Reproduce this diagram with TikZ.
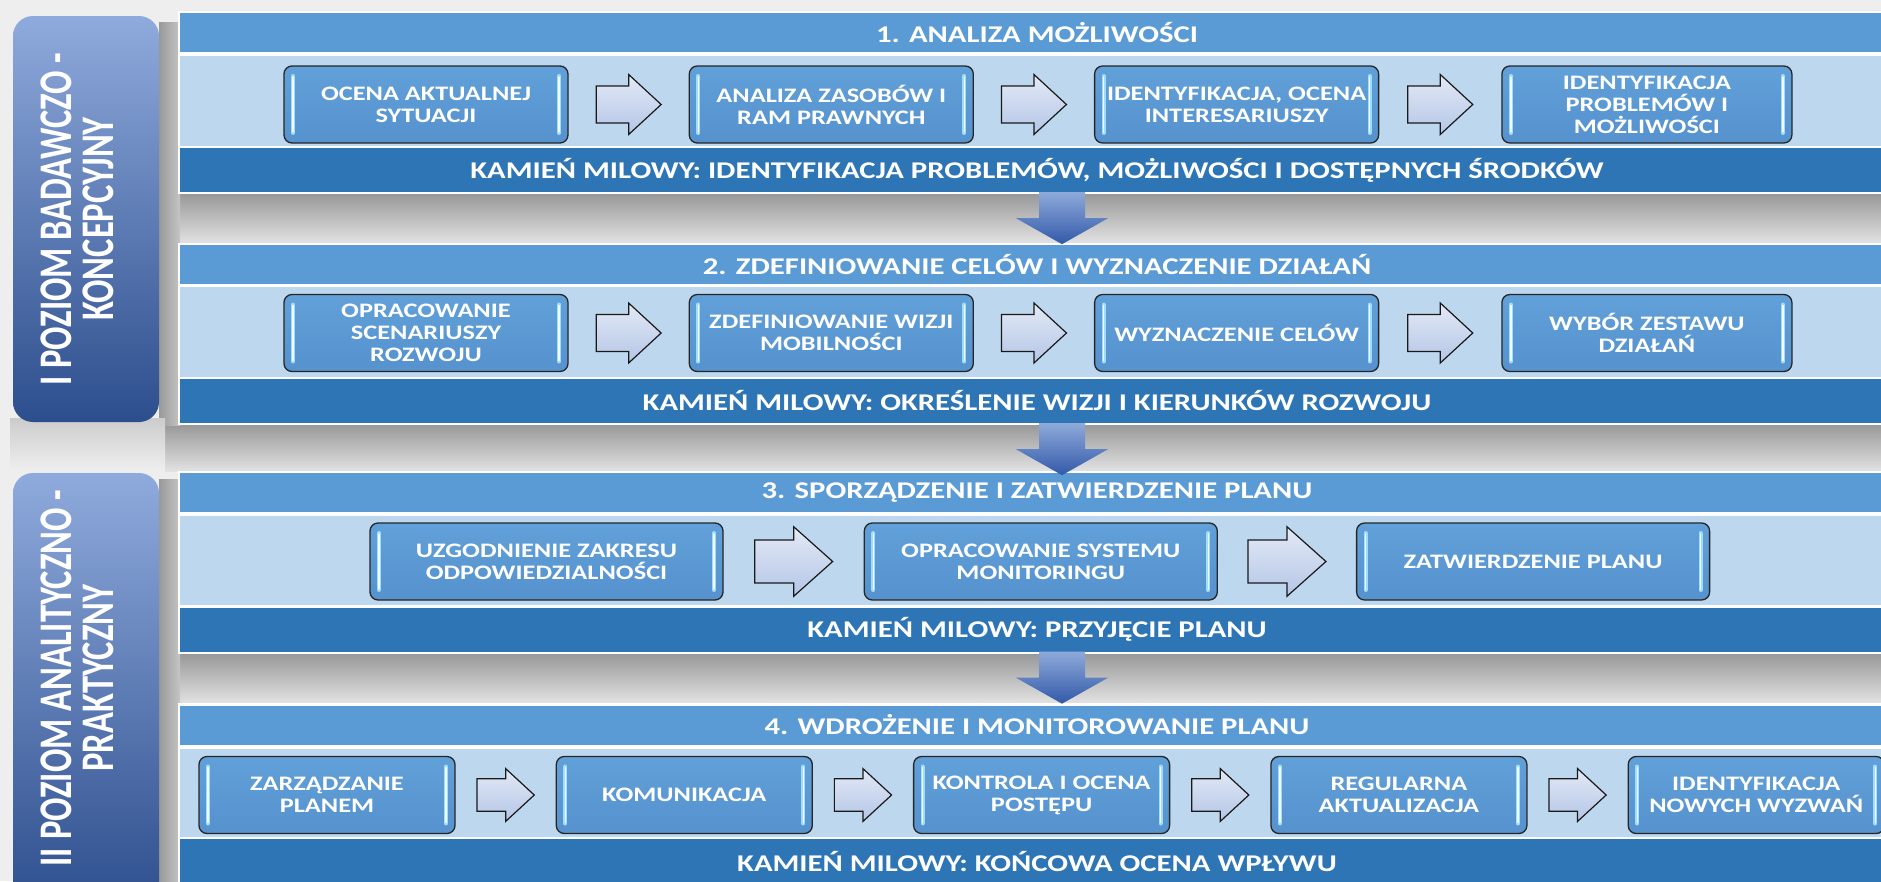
\documentclass[tikz,border=0pt]{standalone}
\usepackage{fontspec}
\setmainfont{Carlito}[FakeStretch=1.28]
\newfontfamily\panelfont{Carlito}
\usepackage{graphicx}
\usetikzlibrary{calc,positioning}
\definecolor{bgray}{HTML}{EEEEEE}
\definecolor{hdrblue}{HTML}{5B9BD5}
\definecolor{bandlight}{HTML}{BDD7EE}
\definecolor{msblue}{HTML}{2E75B6}
\definecolor{boxtop}{HTML}{62A0D9}
\definecolor{boxbot}{HTML}{5592CE}
\definecolor{hlite}{HTML}{9FDDF8}
\definecolor{arrowtop}{HTML}{E4EAF6}
\definecolor{arrowbot}{HTML}{B3C5E6}
\definecolor{darrowtop}{HTML}{8EAADB}
\definecolor{darrowbot}{HTML}{3359A8}
\definecolor{paneltop}{HTML}{8FAADC}
\definecolor{panelmid}{HTML}{4B76C6}
\definecolor{panelbot}{HTML}{2D4E8D}
\definecolor{shadowdk}{HTML}{999999}
\definecolor{shadowlt}{HTML}{E2E2E2}
\tikzset{
  rarrow/.pic={
    \shade[top color=arrowtop, bottom color=arrowbot, draw=black!90, line width=1.2pt]
      (-32.5,-18.5) -- (0,-18.5) -- (0,-30) -- (32.5,0) -- (0,30) -- (0,18.5) -- (-32.5,18.5) -- cycle;
  },
  downarrow/.pic={
    \shade[top color=darrowtop, bottom color=darrowbot]
      (-23,0) -- (23,0) -- (23,26) -- (46,26) -- (0,52) -- (-46,26) -- (-23,26) -- cycle;
  }
}

\begin{document}
\begin{tikzpicture}[x=1pt, y=-1pt,
  band/.style={rectangle, minimum width=1714pt, inner sep=0pt, text=white,
    font=\fontsize{24}{28}\selectfont\bfseries},
  hdr/.style={band, fill=hdrblue, minimum height=39pt},
  mstone/.style={band, fill=msblue, minimum height=44pt},
  stepbox/.style={rectangle, rounded corners=8pt, draw=black!85, line width=1.3pt,
    top color=boxtop, bottom color=boxbot, text=white, align=center,
    font=\fontsize{20.6}{22}\selectfont\bfseries, minimum width=#1, minimum height=77pt, inner sep=0pt,
    path picture={
      \draw[hlite, line width=4pt, line cap=round]
        ([xshift=9pt,yshift=-10pt]path picture bounding box.north west) -- ([xshift=9pt,yshift=10pt]path picture bounding box.south west)
        ([xshift=-9pt,yshift=-10pt]path picture bounding box.north east) -- ([xshift=-9pt,yshift=10pt]path picture bounding box.south east);
      \draw[white!85!hlite, line width=1.3pt, line cap=round]
        ([xshift=9pt,yshift=-11pt]path picture bounding box.north west) -- ([xshift=9pt,yshift=11pt]path picture bounding box.south west)
        ([xshift=-9pt,yshift=-11pt]path picture bounding box.north east) -- ([xshift=-9pt,yshift=11pt]path picture bounding box.south east);
    }},
  lvltext/.style={text=white, inner sep=0pt}]
\useasboundingbox (0,0) rectangle (1881,881);
\clip (0,0) rectangle (1881,881);
\fill[bgray] (0,0) rectangle (1881,881);

% shadows
\shade[top color=shadowdk, bottom color=shadowlt] (165,194) rectangle (1894,243);
\shade[top color=shadowdk, bottom color=shadowlt] (165,425) rectangle (1894,471);
\shade[top color=shadowdk, bottom color=shadowlt] (165,654) rectangle (1894,703);
\shade[left color=shadowdk, right color=shadowlt!60!shadowdk] (159,22) rectangle (180,425);
\shade[left color=shadowdk, right color=shadowlt!60!shadowdk] (159,479) rectangle (180,881);
\shade[top color=shadowlt!70!shadowdk, bottom color=bgray] (10,418) rectangle (165,470);

% levels
\shade[rounded corners=20pt, top color=paneltop, middle color=panelmid, bottom color=panelbot] (13,16) rectangle (159,422);
\shade[rounded corners=20pt, top color=paneltop, middle color=panelmid, bottom color=panelbot] (13,473) rectangle (159,910);
\node[lvltext, rotate=90] (lvl1) at (83,219) {\scalebox{1}[1.35]{\panelfont\bfseries\fontsize{34.6}{29.5}\selectfont
  \begin{tabular}{@{}c@{}}I POZIOM BADAWCZO -\\KONCEPCYJNY\end{tabular}}};
\node[lvltext, rotate=90] (lvl2) at (83,678) {\scalebox{1}[1.35]{\panelfont\bfseries\fontsize{34.6}{29.5}\selectfont
  \begin{tabular}{@{}c@{}}II POZIOM ANALITYCZNO -\\PRAKTYCZNY\end{tabular}}};

% 1
\fill[white] (178,11) rectangle (1894,194);
\node[hdr] (hdr1) at (1037,32.5) {1. ANALIZA MOŻLIWOŚCI};
\fill[bandlight] (180,56) rectangle (1894,146);
\node[mstone] (ms1) at (1037,170) {KAMIEŃ MILOWY: IDENTYFIKACJA PROBLEMÓW, MOŻLIWOŚCI I DOSTĘPNYCH ŚRODKÓW};
\node[stepbox=284pt] (b11) at (426,104.5) {OCENA AKTUALNEJ\\SYTUACJI};
\node[stepbox=284pt, right=120pt of b11] (b12) {ANALIZA ZASOBÓW I\\RAM PRAWNYCH};
\node[stepbox=284pt, right=120pt of b12] (b13) {IDENTYFIKACJA, OCENA\\INTERESARIUSZY};
\node[stepbox=290pt, right=122pt of b13] (b14) {IDENTYFIKACJA\\PROBLEMÓW I\\MOŻLIWOŚCI};
\pic at ($(b11.east)!0.5!(b12.west)$) {rarrow};
\pic at ($(b12.east)!0.5!(b13.west)$) {rarrow};
\pic at ($(b13.east)!0.5!(b14.west)$) {rarrow};

% 2
\fill[white] (178,243) rectangle (1894,425);
\node[hdr] (hdr2) at (1037,264) {2. ZDEFINIOWANIE CELÓW I WYZNACZENIE DZIAŁAŃ};
\fill[bandlight] (180,287) rectangle (1894,377);
\node[mstone] (ms2) at (1037,401) {KAMIEŃ MILOWY: OKREŚLENIE WIZJI I KIERUNKÓW ROZWOJU};
\node[stepbox=284pt] (b21) at (426,333) {OPRACOWANIE\\SCENARIUSZY\\ROZWOJU};
\node[stepbox=284pt, right=120pt of b21] (b22) {ZDEFINIOWANIE WIZJI\\MOBILNOŚCI};
\node[stepbox=284pt, right=120pt of b22] (b23) {WYZNACZENIE CELÓW};
\node[stepbox=290pt, right=122pt of b23] (b24) {WYBÓR ZESTAWU\\DZIAŁAŃ};
\pic at ($(b21.east)!0.5!(b22.west)$) {rarrow};
\pic at ($(b22.east)!0.5!(b23.west)$) {rarrow};
\pic at ($(b23.east)!0.5!(b24.west)$) {rarrow};

% 3
\fill[white] (178,471) rectangle (1894,654);
\node[hdr] (hdr3) at (1037,492.5) {3. SPORZĄDZENIE I ZATWIERDZENIE PLANU};
\fill[bandlight] (180,516) rectangle (1894,605);
\node[mstone] (ms3) at (1037,629.5) {KAMIEŃ MILOWY: PRZYJĘCIE PLANU};
\node[stepbox=353pt] (b31) at (546.5,561.5) {UZGODNIENIE ZAKRESU\\ODPOWIEDZIALNOŚCI};
\node[stepbox=353pt, right=140pt of b31] (b32) {OPRACOWANIE SYSTEMU\\MONITORINGU};
\node[stepbox=353pt, right=138pt of b32] (b33) {ZATWIERDZENIE PLANU};
\pic[xscale=1.2, yscale=1.16] at ($(b31.east)!0.5!(b32.west)$) {rarrow};
\pic[xscale=1.2, yscale=1.16] at ($(b32.east)!0.5!(b33.west)$) {rarrow};

% 4
\fill[white] (178,703) rectangle (1894,890);
\node[hdr] (hdr4) at (1037,725) {4. WDROŻENIE I MONITOROWANIE PLANU};
\fill[bandlight] (180,749) rectangle (1894,837);
\node[mstone] (ms4) at (1037,861) {KAMIEŃ MILOWY: KOŃCOWA OCENA WPŁYWU};
\node[stepbox=256pt] (b41) at (327,795) {ZARZĄDZANIE\\PLANEM};
\node[stepbox=256pt, right=100pt of b41] (b42) {KOMUNIKACJA};
\node[stepbox=256pt, right=100pt of b42] (b43) {KONTROLA I OCENA\\POSTĘPU};
\node[stepbox=256pt, right=100pt of b43] (b44) {REGULARNA\\AKTUALIZACJA};
\node[stepbox=256pt, right=100pt of b44] (b45) {IDENTYFIKACJA\\NOWYCH WYZWAŃ};
\pic[xscale=0.88, yscale=0.88] at ($(b41.east)!0.5!(b42.west)$) {rarrow};
\pic[xscale=0.88, yscale=0.88] at ($(b42.east)!0.5!(b43.west)$) {rarrow};
\pic[xscale=0.88, yscale=0.88] at ($(b43.east)!0.5!(b44.west)$) {rarrow};
\pic[xscale=0.88, yscale=0.88] at ($(b44.east)!0.5!(b45.west)$) {rarrow};

% down arrows
\pic at ($(ms1.south)+(25,0)$) {downarrow};
\pic at ($(ms2.south)+(25,0)$) {downarrow};
\pic at ($(ms3.south)+(25,0)$) {downarrow};
\end{tikzpicture}
\end{document}
